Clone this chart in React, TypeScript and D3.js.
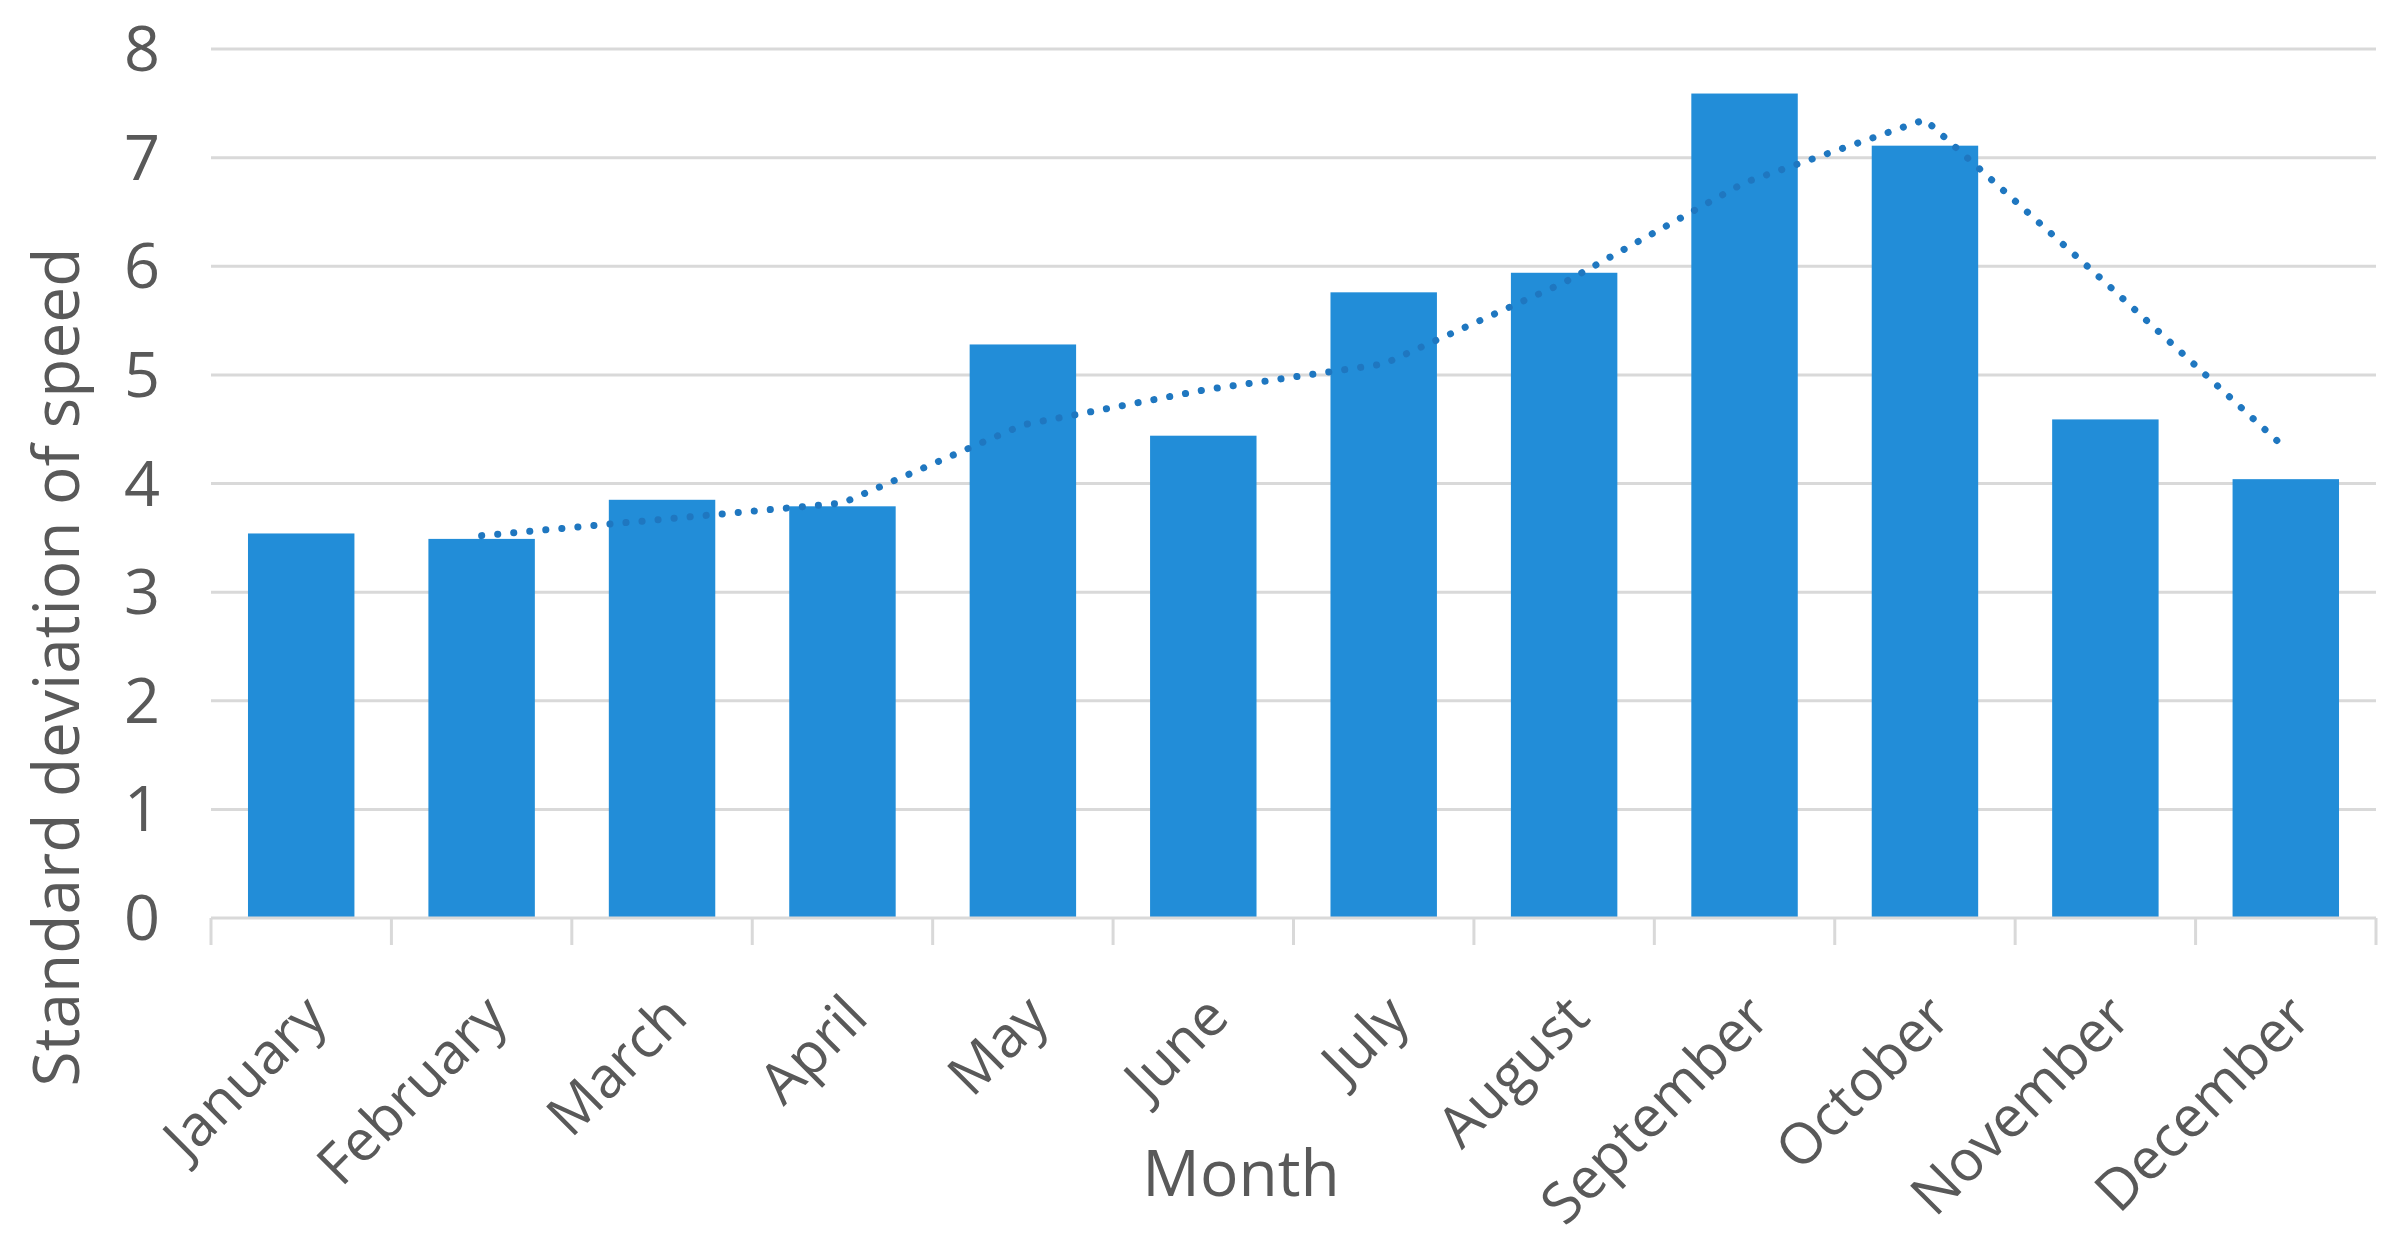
import React from "react";
import * as d3 from "d3";

// bar values
const months = ["January", "February", "March", "April", "May", "June", "July", "August", "September", "October", "November", "December"];
const stdSpeed = [3.54, 3.49, 3.85, 3.79, 5.28, 4.44, 5.76, 5.94, 7.59, 7.11, 4.59, 4.04];

// 2-period moving average trendline, starts at February
const trendMonths = months.slice(1);
const trendValues = [3.52, 3.67, 3.82, 4.54, 4.86, 5.10, 5.85, 6.77, 7.35, 5.85, 4.32];

const yTicks = [0, 1, 2, 3, 4, 5, 6, 7, 8];

const W = 2397;
const H = 1235;
const left = 211, right = 2376, top = 49, bottom = 918;

const font = "'Open Sans', 'Noto Sans', sans-serif";
const textColor = "#595959";
const gridColor = "#d9d9d9";
const barColor = "#228dd8";
const trendColor = "#1f77c0";

export default function App() {
    let x = d3.scaleBand().domain(months).range([left, right]).padding(0);
    let y = d3.scaleLinear().domain([0, 8]).range([bottom, top]);
    let barW = x.bandwidth() * 0.59;
    let cx = (m) => (x(m) as number) + x.bandwidth() / 2;

    let line = d3.line()
        .x((d, i) => cx(trendMonths[i]))
        .y((d) => y(d as unknown as number));

    let boundaries = months.map((m) => x(m) as number).concat([right]);

    return (
        <svg width={W} height={H} style={{ position: "absolute", left: 0, top: 0, background: "#fff" }}>
            <rect x={0} y={0} width={W} height={H} fill="#fff" />

            {/* gridlines */}
            {yTicks.filter((t) => t > 0).map((t) => (
                <line key={"g" + t} x1={left} x2={right} y1={y(t)} y2={y(t)} stroke={gridColor} strokeWidth={3} />
            ))}

            {/* y tick labels */}
            {yTicks.map((t) => (
                <text key={"yt" + t} x={160} y={y(t)} dy="0.35em" textAnchor="end"
                    fontFamily={font} fontSize={63} fill={textColor}>{t}</text>
            ))}

            {/* bars */}
            {months.map((m, i) => (
                <rect key={m} x={cx(m) - barW / 2} y={y(stdSpeed[i])} width={barW}
                    height={y(0) - y(stdSpeed[i])} fill={barColor} />
            ))}

            {/* x axis */}
            <line x1={left} x2={right} y1={bottom} y2={bottom} stroke={gridColor} strokeWidth={3} />
            {boundaries.map((b, i) => (
                <line key={"tk" + i} x1={b} x2={b} y1={bottom} y2={bottom + 27} stroke={gridColor} strokeWidth={3} />
            ))}

            {/* trendline */}
            <path d={line(trendValues as any) as string} fill="none" stroke={trendColor} strokeWidth={7}
                strokeLinecap="round" strokeDasharray="0.1 16" />

            {/* month labels */}
            {months.map((m) => (
                <text key={"xl" + m} transform={`translate(${cx(m) + 28},${1020}) rotate(-45)`}
                    textAnchor="end" fontFamily={font} fontSize={57} fill={textColor}>{m}</text>
            ))}

            {/* axis titles */}
            <text x={1241} y={1196} textAnchor="middle" fontFamily={font} fontSize={64} fill={textColor}>Month</text>
            <text transform={`translate(79,667) rotate(-90)`} textAnchor="middle"
                fontFamily={font} fontSize={64} fill={textColor}>Standard deviation of speed</text>
        </svg>
    );
}
